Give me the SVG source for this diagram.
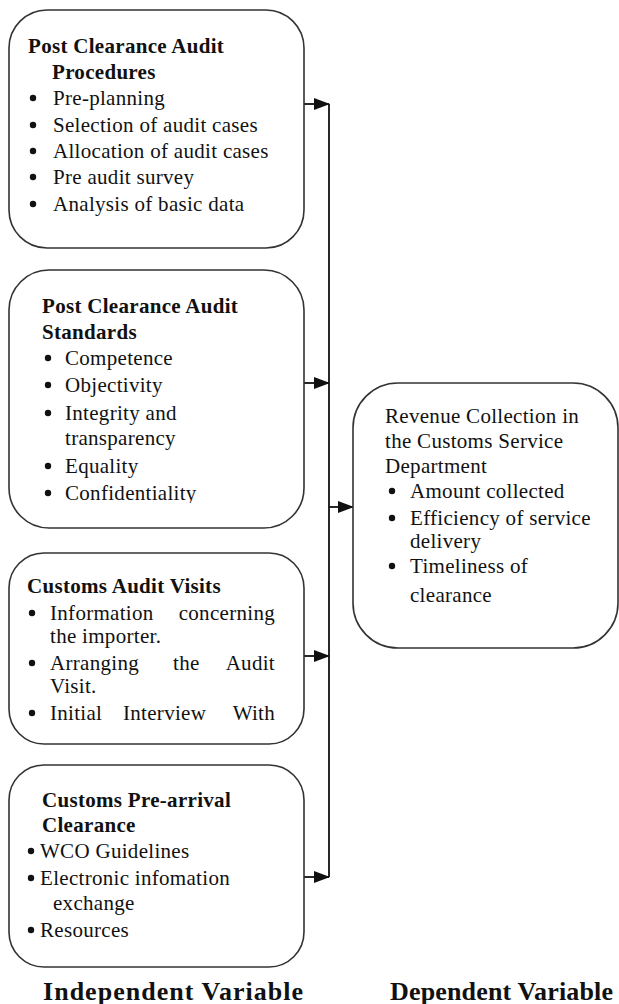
<svg xmlns="http://www.w3.org/2000/svg" width="619" height="1004" viewBox="0 0 619 1004">
<style>
.box{fill:#fff;stroke:#333;stroke-width:1.6}
.t{font-family:"Liberation Serif","Times New Roman",serif;font-size:21px;letter-spacing:0.3px;fill:#111}
.b{font-weight:bold}
.d{fill:#111}
.lbl{font-family:"Liberation Serif","Times New Roman",serif;font-size:26px;font-weight:bold;fill:#111}
.con{stroke:#111;stroke-width:1.8;fill:none}
</style>
<defs>
<marker id="ah" markerUnits="userSpaceOnUse" markerWidth="16" markerHeight="12" refX="15" refY="6" orient="auto">
<path d="M0,0 L16,6 L0,12 Z" fill="#111"/>
</marker>
<clipPath id="c2"><rect x="0" y="270" width="310" height="233"/></clipPath>
</defs>
<rect width="619" height="1004" fill="#fff"/>

<g id="connectors">
<line class="con" x1="329" y1="104" x2="329" y2="877"/>
<line class="con" x1="304" y1="104" x2="329" y2="104" marker-end="url(#ah)"/>
<line class="con" x1="304" y1="383" x2="329" y2="383" marker-end="url(#ah)"/>
<line class="con" x1="304" y1="656" x2="329" y2="656" marker-end="url(#ah)"/>
<line class="con" x1="304" y1="877" x2="329" y2="877" marker-end="url(#ah)"/>
<line class="con" x1="329" y1="507" x2="353" y2="507" marker-end="url(#ah)"/>
</g>

<g id="box-procedures">
<rect class="box" x="9" y="10" width="295" height="238" rx="38"/>
<text class="t b" x="28" y="53">Post Clearance Audit</text>
<text class="t b" x="52" y="79">Procedures</text>
<circle class="d" cx="33" cy="98" r="3.2"/><text class="t" x="53" y="105">Pre-planning</text>
<circle class="d" cx="33" cy="125" r="3.2"/><text class="t" x="53" y="132">Selection of audit cases</text>
<circle class="d" cx="33" cy="151" r="3.2"/><text class="t" x="53" y="158">Allocation of audit cases</text>
<circle class="d" cx="33" cy="177" r="3.2"/><text class="t" x="53" y="184">Pre audit survey</text>
<circle class="d" cx="33" cy="204" r="3.2"/><text class="t" x="53" y="211">Analysis of basic data</text>
</g>

<g id="box-standards">
<rect class="box" x="9" y="270" width="295" height="258" rx="40"/>
<text class="t b" x="42" y="313">Post Clearance Audit</text>
<text class="t b" x="42" y="339">Standards</text>
<g clip-path="url(#c2)">
<circle class="d" cx="48" cy="358" r="3.2"/><text class="t" x="65" y="365">Competence</text>
<circle class="d" cx="48" cy="385" r="3.2"/><text class="t" x="65" y="392">Objectivity</text>
<circle class="d" cx="48" cy="413" r="3.2"/><text class="t" x="65" y="420">Integrity and</text>
<text class="t" x="65" y="445">transparency</text>
<circle class="d" cx="48" cy="466" r="3.2"/><text class="t" x="65" y="473">Equality</text>
<circle class="d" cx="48" cy="493" r="3.2"/><text class="t" x="65" y="500">Confidentiality</text>
</g>
</g>

<g id="box-visits">
<rect class="box" x="9" y="553" width="295" height="191" rx="35"/>
<text class="t b" x="27" y="593">Customs Audit Visits</text>
<circle class="d" cx="32" cy="613" r="3.2"/><text class="t" x="50" y="620">Information</text><text class="t" x="275" y="620" text-anchor="end">concerning</text>
<text class="t" x="50" y="643">the importer.</text>
<circle class="d" cx="32" cy="663" r="3.2"/><text class="t" x="50" y="670">Arranging</text><text class="t" x="173" y="670">the</text><text class="t" x="275" y="670" text-anchor="end">Audit</text>
<text class="t" x="50" y="693">Visit.</text>
<circle class="d" cx="32" cy="713" r="3.2"/><text class="t" x="50" y="720">Initial</text><text class="t" x="123" y="720">Interview</text><text class="t" x="275" y="720" text-anchor="end">With</text>
</g>

<g id="box-prearrival">
<rect class="box" x="9" y="765" width="295" height="202" rx="35"/>
<text class="t b" x="42" y="807">Customs Pre-arrival</text>
<text class="t b" x="42" y="832">Clearance</text>
<circle class="d" cx="31" cy="851" r="3.2"/><text class="t" x="40" y="858">WCO Guidelines</text>
<circle class="d" cx="31" cy="878" r="3.2"/><text class="t" x="40" y="885">Electronic infomation</text>
<text class="t" x="53" y="910">exchange</text>
<circle class="d" cx="31" cy="930" r="3.2"/><text class="t" x="40" y="937">Resources</text>
</g>

<g id="box-revenue">
<rect class="box" x="353" y="383" width="265" height="265" rx="45"/>
<text class="t" x="385" y="423">Revenue Collection in</text>
<text class="t" x="385" y="448">the Customs Service</text>
<text class="t" x="385" y="473">Department</text>
<circle class="d" cx="392" cy="491" r="3.2"/><text class="t" x="410" y="498">Amount collected</text>
<circle class="d" cx="392" cy="518" r="3.2"/><text class="t" x="410" y="525">Efficiency of service</text>
<text class="t" x="410" y="548">delivery</text>
<circle class="d" cx="392" cy="566" r="3.2"/><text class="t" x="410" y="573">Timeliness of</text>
<text class="t" x="410" y="602">clearance</text>
</g>

<g id="labels">
<text class="lbl" x="43" y="1000" textLength="260" lengthAdjust="spacing">Independent Variable</text>
<text class="lbl" x="390" y="1000" textLength="223" lengthAdjust="spacing">Dependent Variable</text>
</g>
</svg>
